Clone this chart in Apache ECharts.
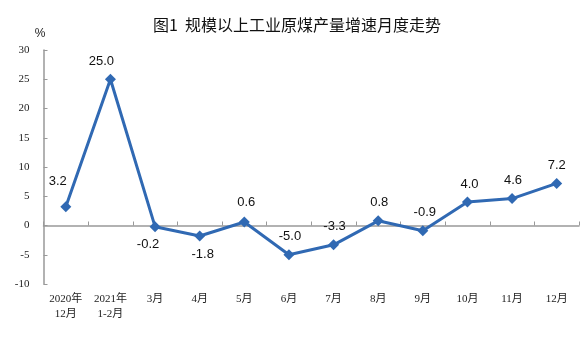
<!DOCTYPE html>
<html><head><meta charset="utf-8">
<script src="https://cdn.jsdelivr.net/npm/echarts@6/dist/echarts.min.js"></script>
<style>html,body{margin:0;padding:0;background:#fff}#c{width:580px;height:357px}</style>
</head><body><div id="c"></div>
<script>
const categories = ['2020年\n12月','2021年\n1-2月','3月','4月','5月','6月','7月','8月','9月','10月','11月','12月'];
const values = [3.2, 25.0, -0.2, -1.8, 0.6, -5.0, -3.3, 0.8, -0.9, 4.0, 4.6, 7.2];
const labelPos = ['top','top','bottom','bottom','top','top','top','top','top','top','top','top'];
const labelOffsets = [[-8,-7],[-9,0],[-7,0],[3,0],[2,-2],[1,0],[1,0],[1,0],[2,0],[2,0],[1,0],[0,0]];

const chart = echarts.init(document.getElementById('c'));
chart.setOption({
  animation:false,
  title:{text:'图1  规模以上工业原煤产量增速月度走势',left:292,textAlign:'center',top:12,
    textStyle:{fontFamily:'Noto Sans CJK SC',fontSize:16,fontWeight:'normal',color:'#111'}},
  grid:{left:43.5,right:1,top:50,bottom:73},
  xAxis:{type:'category',data:categories,boundaryGap:true,
    axisLine:{lineStyle:{color:'#999',width:1.5}},
    axisTick:{show:true,inside:true,length:4,lineStyle:{color:'#999'}},
    axisLabel:{fontFamily:'Liberation Serif, Noto Sans CJK SC',fontSize:11,color:'#222',margin:8,lineHeight:15,interval:0}},
  yAxis:{type:'value',min:-10,max:30,interval:5,name:'%',nameLocation:'end',nameGap:10,
    nameTextStyle:{fontFamily:'Liberation Sans',fontSize:12,color:'#222',align:'right',padding:[0,-2,0,0]},
    axisLine:{show:true,lineStyle:{color:'#999',width:1.5}},
    axisTick:{show:true,inside:true,length:4,lineStyle:{color:'#999'}},
    splitLine:{show:false},
    axisLabel:{fontFamily:'Liberation Serif',fontSize:11,color:'#222',margin:14}},
  series:[{type:'line',
    data:values.map((v,i)=>({value:v,label:{position:labelPos[i],offset:labelOffsets[i]}})),
    symbol:'diamond',symbolSize:11,
    lineStyle:{color:'#3069b3',width:3},
    itemStyle:{color:'#3069b3'},
    label:{show:true,fontFamily:'Liberation Sans',fontSize:13,color:'#111',distance:6,
      formatter:p=>p.value.toFixed(1)}
  }]
});
</script></body></html>
